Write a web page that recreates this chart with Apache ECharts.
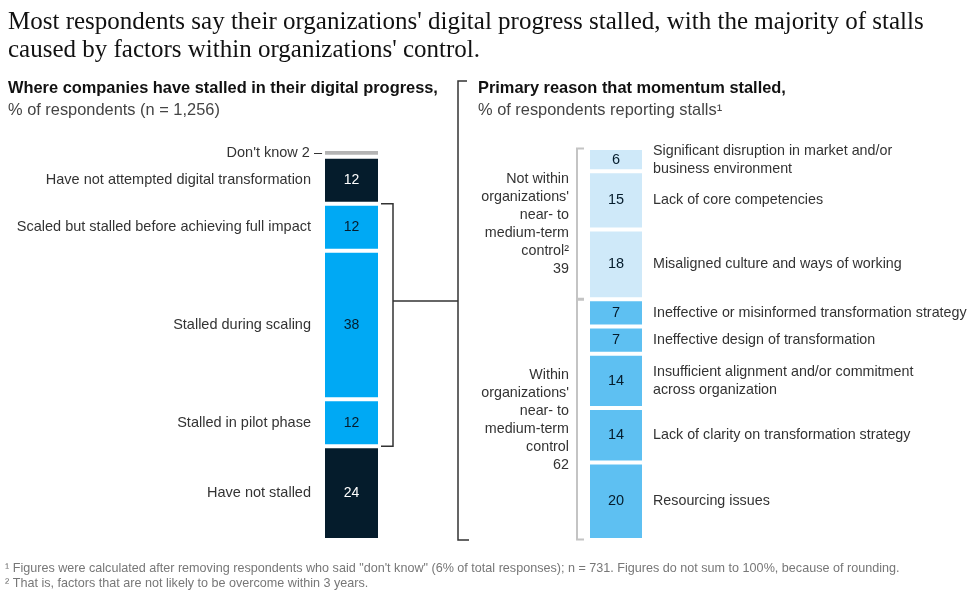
<!DOCTYPE html>
<html><head><meta charset="utf-8">
<script src="https://cdn.jsdelivr.net/npm/echarts@6/dist/echarts.min.js"></script>
<style>html,body{margin:0;padding:0;background:#fff}#c{width:974px;height:606px}</style>
</head><body><div id="c"></div>
<script>
// ---- data ----
const leftCategories = ["Don't know", "Have not attempted digital transformation", "Scaled but stalled before achieving full impact", "Stalled during scaling", "Stalled in pilot phase", "Have not stalled"];
const leftValues = [2, 12, 12, 38, 12, 24];
const leftKinds = ["unknown", "none", "stalled", "stalled", "stalled", "none"];
const stalledRange = [14, 76];

const rightReasons = ["Significant disruption in market and/or\nbusiness environment", "Lack of core competencies", "Misaligned culture and ways of working", "Ineffective or misinformed transformation strategy", "Ineffective design of transformation", "Insufficient alignment and/or commitment\nacross organization", "Lack of clarity on transformation strategy", "Resourcing issues"];
const rightValues = [6, 15, 18, 7, 7, 14, 14, 20];
const rightGroup = [0, 0, 0, 1, 1, 1, 1, 1];
const groupNames = ["Not within\norganizations'\nnear- to\nmedium-term\ncontrol²", "Within\norganizations'\nnear- to\nmedium-term\ncontrol"];
const groupValues = [39, 62];

// ---- styles ----
const SANS = "Liberation Sans, Arial, sans-serif";
const kindColor = { unknown: "#b4b4b4", none: "#051c2c", stalled: "#00a9f4" };
const kindText = { unknown: "#051c2c", none: "#ffffff", stalled: "#051c2c" };
const groupColor = ["#cfe9f9", "#5ec0f2"];

const leftMax = leftValues.reduce((a, b) => a + b, 0);
const rightMax = rightValues.reduce((a, b) => a + b, 0);

const series = [];
leftValues.forEach((v, i) => {
  series.push({
    type: "bar", stack: "L", xAxisIndex: 0, yAxisIndex: 0, data: [v], barWidth: "100%", barGap: "-100%",
    itemStyle: { color: kindColor[leftKinds[i]], borderColor: "#fff", borderWidth: 2 },
    label: { show: leftKinds[i] !== "unknown", position: "inside", color: kindText[leftKinds[i]], fontFamily: SANS, fontSize: 14, fontWeight: 500, formatter: String(v) },
    silent: true
  });
});
leftValues.forEach((v, i) => {
  const unk = leftKinds[i] === "unknown";
  series.push({
    type: "bar", stack: "LN", xAxisIndex: 0, yAxisIndex: 0, data: [v], barWidth: "100%", barGap: "-100%",
    itemStyle: { color: "rgba(0,0,0,0)" },
    label: { show: true, position: "left", distance: unk ? 1 : 12, color: "#333", fontFamily: SANS, fontSize: 14.5,
      formatter: unk ? leftCategories[i] + " " + v + " –" : leftCategories[i] },
    silent: true
  });
});
rightValues.forEach((v, i) => {
  series.push({
    type: "bar", stack: "R", xAxisIndex: 1, yAxisIndex: 1, data: [v], barWidth: "100%", barGap: "-100%",
    itemStyle: { color: groupColor[rightGroup[i]], borderColor: "#fff", borderWidth: 2 },
    label: { show: true, position: "inside", color: "#051c2c", fontFamily: SANS, fontSize: 14.5, formatter: String(v) },
    silent: true
  });
});
rightValues.forEach((v, i) => {
  series.push({
    type: "bar", stack: "RN", xAxisIndex: 1, yAxisIndex: 1, data: [v], barWidth: "100%", barGap: "-100%",
    itemStyle: { color: "rgba(0,0,0,0)" },
    label: { show: true, position: "right", distance: 9, color: "#333", fontFamily: SANS, fontSize: 14.3, lineHeight: 18, align: "left", formatter: rightReasons[i] },
    silent: true
  });
});
groupValues.forEach((v, i) => {
  series.push({
    type: "bar", stack: "G", xAxisIndex: 1, yAxisIndex: 1, data: [v], barWidth: "100%", barGap: "-100%",
    itemStyle: { color: "rgba(0,0,0,0)" },
    label: { show: true, position: "left", distance: 19, color: "#333", fontFamily: SANS, fontSize: 14.3, lineHeight: 18, align: "right", formatter: groupNames[i] + "\n" + v },
    silent: true
  });
});
// bracket on left bar + connector + big bracket
series.push({
  type: "custom", xAxisIndex: 0, yAxisIndex: 0, silent: true, clip: false,
  data: [[0, stalledRange[0], stalledRange[1]]], encode: { x: 0, y: [1, 2] },
  renderItem: function (params, api) {
    const t = api.coord([0, api.value(1)]);
    const b = api.coord([0, api.value(2)]);
    const w = api.size([1, 0])[0];
    const cs = params.coordSys;
    const xr = t[0] + w / 2;
    const bx = xr + 13;
    const bigX = xr + 78;
    const connY = cs.y + 152;
    const topY = cs.y - 68, botY = cs.y + cs.height;
    const st = { stroke: "#333", lineWidth: 1.5, fill: null };
    return { type: "group", children: [
      { type: "polyline", shape: { points: [[xr + 1, t[1]], [bx, t[1]], [bx, b[1]], [xr + 1, b[1]]] }, style: st },
      { type: "line", shape: { x1: bx, y1: connY, x2: bigX, y2: connY }, style: st },
      { type: "polyline", shape: { points: [[bigX + 9, topY], [bigX, topY], [bigX, botY], [bigX + 11, botY]] }, style: st }
    ] };
  }
});
// group brackets on right bar
series.push({
  type: "custom", xAxisIndex: 1, yAxisIndex: 1, silent: true, clip: false,
  data: groupValues.map((v, i) => { const s = groupValues.slice(0, i).reduce((a, b) => a + b, 0); return [0, s, s + v]; }),
  encode: { x: 0, y: [1, 2] },
  renderItem: function (params, api) {
    const t = api.coord([0, api.value(1)]);
    const b = api.coord([0, api.value(2)]);
    const w = api.size([1, 0])[0];
    const x = t[0] - w / 2 - 11;
    return { type: "polyline", shape: { points: [[x + 7, t[1] + 0.5], [x, t[1] + 0.5], [x, b[1] - 0.5], [x + 7, b[1] - 0.5]] },
      style: { stroke: "#c4c4c4", lineWidth: 2, fill: null } };
  }
});

const chart = echarts.init(document.getElementById("c"), null, { renderer: "canvas" });
chart.setOption({
  animation: false,
  backgroundColor: "#fff",
  title: [
    { text: "Most respondents say their organizations' digital progress stalled, with the majority of stalls\ncaused by factors within organizations' control.", left: 8, top: 8, padding: 0,
      textStyle: { fontFamily: "Liberation Serif, serif", fontSize: 25, lineHeight: 28, fontWeight: "normal", color: "#111" } },
    { text: "Where companies have stalled in their digital progress,", left: 8, top: 79, padding: 0,
      textStyle: { fontFamily: SANS, fontSize: 16.4, lineHeight: 18, fontWeight: "bold", color: "#111" } },
    { text: "% of respondents (n = 1,256)", left: 8, top: 101, padding: 0,
      textStyle: { fontFamily: SANS, fontSize: 16.4, lineHeight: 18, fontWeight: "normal", color: "#444" } },
    { text: "Primary reason that momentum stalled,", left: 478, top: 79, padding: 0,
      textStyle: { fontFamily: SANS, fontSize: 16.4, lineHeight: 18, fontWeight: "bold", color: "#111" } },
    { text: "% of respondents reporting stalls¹", left: 478, top: 101, padding: 0,
      textStyle: { fontFamily: SANS, fontSize: 16.4, lineHeight: 18, fontWeight: "normal", color: "#444" } },
    { text: "¹ Figures were calculated after removing respondents who said \"don't know\" (6% of total responses); n = 731. Figures do not sum to 100%, because of rounding.\n² That is, factors that are not likely to be overcome within 3 years.", left: 5, top: 561, padding: 0,
      textStyle: { fontFamily: SANS, fontSize: 12.6, lineHeight: 15, fontWeight: "normal", color: "#777" } }
  ],
  grid: [
    { left: 323, top: 149, width: 57, height: 391 },
    { left: 588, top: 148, width: 56, height: 392 }
  ],
  xAxis: [
    { type: "category", gridIndex: 0, data: ["left"], show: false },
    { type: "category", gridIndex: 1, data: ["right"], show: false }
  ],
  yAxis: [
    { type: "value", gridIndex: 0, min: 0, max: leftMax, inverse: true, show: false },
    { type: "value", gridIndex: 1, min: 0, max: rightMax, inverse: true, show: false }
  ],
  series: series
});
</script></body></html>
